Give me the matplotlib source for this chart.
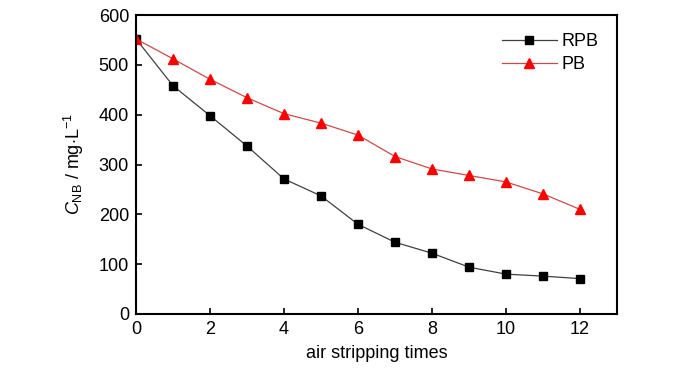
import matplotlib
matplotlib.use("Agg")
from matplotlib import pyplot as plt

plt.rcParams['font.family'] = ['Liberation Sans', 'DejaVu Sans']
plt.rcParams['mathtext.fontset'] = 'custom'
plt.rcParams['mathtext.rm'] = 'Liberation Sans'
plt.rcParams['mathtext.it'] = 'Liberation Sans:italic'

# data
times = [0, 1, 2, 3, 4, 5, 6, 7, 8, 9, 10, 11, 12]
rpb = [552, 458, 398, 337, 271, 237, 180, 144, 122, 94, 80, 76, 71]
pb = [552, 512, 471, 434, 402, 383, 359, 316, 291, 278, 265, 241, 210]

fig = plt.figure(figsize=(7, 3.73), dpi=100)
ax = fig.add_axes([136 / 700, 1 - 314 / 373, (617 - 136) / 700, (314 - 15) / 373])

ax.plot(times, rpb, color='#404040', lw=0.9, marker='s', ms=5.2,
        mfc='black', mec='black', label='RPB')
ax.plot(times, pb, color='#d04848', lw=0.9, marker='^', ms=6.8,
        mfc='red', mec='red', label='PB')

ax.set_xlim(0, 13)
ax.set_ylim(0, 600)
ax.set_xticks([0, 2, 4, 6, 8, 10, 12])
ax.set_yticks([0, 100, 200, 300, 400, 500, 600])
ax.tick_params(direction='in', labelsize=13, length=4, width=1.2, pad=5)
for s in ax.spines.values():
    s.set_linewidth(1.5)

ax.set_xlabel('air stripping times', fontsize=13, labelpad=5)
ax.set_ylabel(r'$C_{\mathrm{NB}}$ / mg$\cdot$L$^{-1}$', fontsize=13, labelpad=9)

ax.legend(loc='upper right', frameon=False, fontsize=13, handlelength=3,
          handletextpad=0.3, borderaxespad=0.6, labelspacing=0.35)

fig.savefig('out.png', dpi=100)
